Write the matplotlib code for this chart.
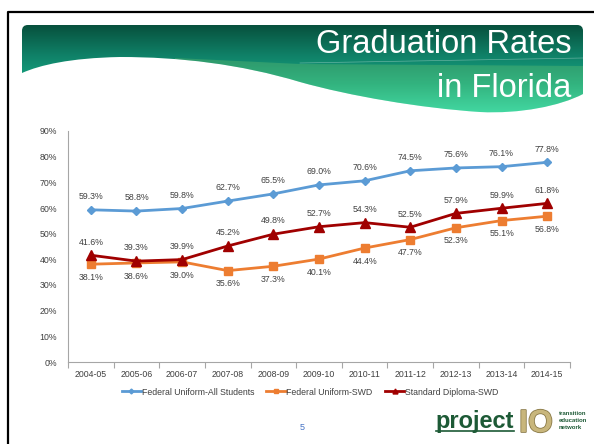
import numpy as np
import matplotlib
matplotlib.use("Agg")
import matplotlib.pyplot as plt  # noqa: E402
import matplotlib.patheffects as pe  # noqa: E402
from matplotlib.path import Path  # noqa: E402
from matplotlib.patches import PathPatch, Polygon  # noqa: E402
from matplotlib.lines import Line2D  # noqa: E402

plt.rcParams["font.family"] = ["Liberation Sans", "DejaVu Sans"]

years = ["2004-05", "2005-06", "2006-07", "2007-08", "2008-09", "2009-10",
         "2010-11", "2011-12", "2012-13", "2013-14", "2014-15"]
all_students = [59.3, 58.8, 59.8, 62.7, 65.5, 69.0, 70.6, 74.5, 75.6, 76.1, 77.8]
fed_swd = [38.1, 38.6, 39.0, 35.6, 37.3, 40.1, 44.4, 47.7, 52.3, 55.1, 56.8]
std_swd = [41.6, 39.3, 39.9, 45.2, 49.8, 52.7, 54.3, 52.5, 57.9, 59.9, 61.8]
yticks = [0, 10, 20, 30, 40, 50, 60, 70, 80, 90]

BLUE, ORANGE, RED = "#5b9bd5", "#ed7d31", "#a00000"
LBL = "#404040"
LOGO = "#1d5a36"
W, H = 594, 444

fig = plt.figure(figsize=(W / 100, H / 100), dpi=100)

# ---- slide background: border + green banner (pixel coords, y down) ----
bg = fig.add_axes([0, 0, 1, 1], zorder=0)
bg.set_xlim(0, W); bg.set_ylim(H, 0); bg.axis("off")
bg.add_line(Line2D([8, 8, W], [H, 12, 12], color="black", lw=1.6))

M, C4, L_ = Path.MOVETO, Path.CURVE4, Path.LINETO
verts = [(22, 31), (22, 27), (24, 25), (28, 25), (577, 25), (581, 25), (583, 27), (583, 31),
         (583, 94), (560, 106), (520, 114), (480, 112),
         (420, 108), (350, 96), (300, 82),
         (240, 64), (180, 57), (120, 57),
         (70, 58), (40, 65), (22, 73), (22, 31)]
codes = [M, C4, C4, C4, L_, C4, C4, C4, L_, C4, C4, C4, C4, C4, C4, C4, C4, C4, C4, C4, C4, L_]
banner = PathPatch(Path(verts, codes), fc="none", ec="none", transform=bg.transData)
bg.add_patch(banner)
grad = np.array([[0.027, 0.31, 0.235], [0.06, 0.50, 0.40], [0.09, 0.66, 0.52],
                 [0.17, 0.85, 0.70]])
t = np.linspace(0, 3, 100)
rows = np.stack([np.interp(t, range(4), grad[:, k]) for k in range(3)], axis=1)
im = bg.imshow(rows[:, None, :], extent=[22, 583, 115, 25], aspect="auto", zorder=1)
im.set_clip_path(banner)
lg = Polygon([(175, 58), (300, 64), (583, 66), (583, 115), (175, 115)],
             closed=True, fc="#9ae070", ec="none", alpha=0.22, zorder=2)
bg.add_patch(lg); lg.set_clip_path(banner)
bg.add_line(Line2D([300, 583], [63, 58], color="white", lw=0.5, alpha=0.35, zorder=2))

bg.text(571, 53, "Graduation Rates", color="white", fontsize=23.5, ha="right", va="baseline", zorder=3)
bg.text(571, 97, "in Florida", color="white", fontsize=23.5, ha="right", va="baseline", zorder=3)

# page number + logo
bg.text(302, 427, "5", color="#4472c4", fontsize=6.5, ha="center", va="center")
bg.text(435, 428, "project", color=LOGO, fontsize=17, fontweight="bold",
        ha="left", va="baseline")
bg.add_line(Line2D([436, 514], [431, 431], color=LOGO, lw=1.2))
io = bg.text(536, 432, "IO", color="#c8b67c", fontsize=23, fontweight="bold",
             ha="center", va="baseline")
io.set_path_effects([pe.withStroke(linewidth=1.2, foreground="#8a7a48")])
for i, w in enumerate(["transition", "education", "network"]):
    bg.text(559, 413 + i * 7, w, color=LOGO, fontsize=4.3, fontweight="bold",
            ha="left", va="center")

# ---- chart ----
ax = fig.add_axes([68 / W, 1 - 362 / H, (570 - 68) / W, (362 - 131) / H], zorder=2)
ax.patch.set_alpha(0)
x = np.arange(len(years))
ax.plot(x, all_students, color=BLUE, lw=2, marker="D", ms=4.5, label="Federal Uniform-All Students")
ax.plot(x, fed_swd, color=ORANGE, lw=2, marker="s", ms=6, label="Federal Uniform-SWD")
ax.plot(x, std_swd, color=RED, lw=2, marker="^", ms=6.5, label="Standard Diploma-SWD")

for series, dy in ((all_students, 9.5), (fed_swd, -9.5), (std_swd, 9.5)):
    for xi, v in zip(x, series):
        ax.annotate(f"{v:.1f}%", (xi, v), xytext=(0, dy), textcoords="offset points",
                    ha="center", va="center", fontsize=6.3, color=LBL)

ax.set_xlim(-0.5, len(years) - 0.5)
ax.set_ylim(0, 90)
ax.set_yticks(yticks)
ax.set_yticklabels([f"{t}%" for t in yticks])
ax.set_xticks(x)
ax.set_xticklabels(years)
ax.set_xticks(np.arange(-0.5, len(years)), minor=True)
ax.tick_params(axis="x", which="major", length=0, pad=6, labelsize=6.3, labelcolor=LBL)
ax.tick_params(axis="x", which="minor", length=4, color="#a6a6a6", width=0.8)
ax.tick_params(axis="y", length=0, pad=8, labelsize=6.3, labelcolor=LBL)
for s in ("top", "right"):
    ax.spines[s].set_visible(False)
for s in ("left", "bottom"):
    ax.spines[s].set_color("#a6a6a6"); ax.spines[s].set_linewidth(0.8)

fig.legend(loc="center", bbox_to_anchor=(310 / W, 1 - 392 / H), ncol=3, frameon=False,
           fontsize=6.3, handlelength=2.2, handletextpad=0.1, columnspacing=1.4, markerscale=0.55,
           labelcolor=LBL)

fig.savefig("out.png", dpi=100)
